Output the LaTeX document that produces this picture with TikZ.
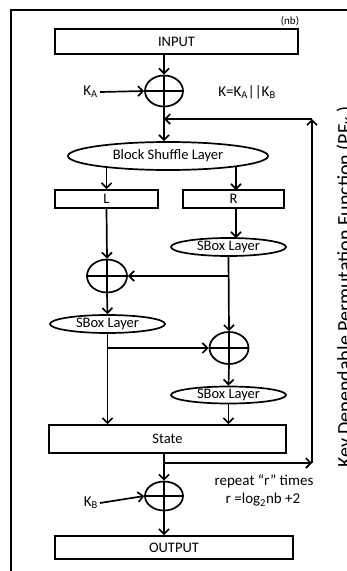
\documentclass[tikz,border=0pt]{standalone}
\usepackage{fontspec}
\setmainfont{Carlito}
\usetikzlibrary{shapes.geometric,arrows.meta,backgrounds}
\tikzset{
  lw/.style={line width=1.7pt},
  box/.style={lw,draw,fill=white,rectangle,inner sep=0pt,font=\fontsize{14.5}{16}\selectfont},
  oval/.style={lw,draw,fill=white,ellipse,inner sep=0pt,font=\fontsize{14.5}{16}\selectfont},
  xorn/.style={lw,draw,fill=white,ellipse,inner sep=0pt,
     path picture={\draw[lw] (path picture bounding box.west) -- (path picture bounding box.east)
                   (path picture bounding box.north) -- (path picture bounding box.south);}},
  arr/.style={lw,-{Straight Barb[length=5pt,width=10pt]}},
  lbl/.style={font=\fontsize{15}{16}\selectfont,inner sep=0pt},
}
\begin{document}
\begin{tikzpicture}[x=1pt,y=-1pt]
\useasboundingbox (0,0) rectangle (347,571);
\clip (0,0) rectangle (347,571);
\draw[lw] (11,590) -- (11,10) -- (370,10);

\node[box,minimum width=243pt,minimum height=25pt] (in) at (176.5,41.5) {INPUT};
\node[lbl,font=\fontsize{11}{12}\selectfont] (nb) at (290,21) {(nb)};
\node[xorn,minimum width=38pt,minimum height=31pt] (xa) at (164,91) {};
\node[lbl,anchor=east] (ka) at (98,92) {K\textsubscript{A}};
\node[lbl] (kk) at (247,92) {K=K\textsubscript{A}||K\textsubscript{B}};
\node[oval,minimum width=200pt,minimum height=28pt] (bs) at (168,156) {Block Shuffle Layer};
\node[box,minimum width=103pt,minimum height=18pt] (L) at (106.5,199) {L};
\node[box,minimum width=101pt,minimum height=18pt] (R) at (233.5,199) {R};
\node[oval,minimum width=115pt,minimum height=18pt] (sr1) at (228.5,247) {SBox Layer};
\node[xorn,minimum width=40pt,minimum height=33pt] (xl) at (107,276) {};
\node[oval,minimum width=115pt,minimum height=18pt] (sl) at (107.5,324) {SBox Layer};
\node[xorn,minimum width=39pt,minimum height=32pt] (xr) at (229,348) {};
\node[oval,minimum width=115pt,minimum height=17pt] (sr2) at (228.5,395) {SBox Layer};
\node[box,minimum width=237pt,minimum height=28pt] (st) at (167.5,439) {State};
\node[xorn,minimum width=38pt,minimum height=29pt] (xo) at (164,496) {};
\node[lbl,anchor=east] (kb) at (98,503) {K\textsubscript{B}};
\node[lbl] (rep) at (264,481) {repeat “r” times};
\node[lbl] (rr) at (263,500) {r =log\textsubscript{2}nb +2};
\node[box,minimum width=238pt,minimum height=23pt] (out) at (174,547.5) {OUTPUT};
\node[inner sep=0pt,anchor=base west,rotate=90,font=\fontsize{20}{22}\selectfont] (pf) at (351,468) {Key Dependable Permutation Function (PF\textsubscript{K} )};
\coordinate (c1) at (312,463);
\coordinate (c2) at (312,119);

\begin{scope}[on background layer]
\draw[arr] (xa |- in.south) -- (xa.north);
\draw[arr] (ka.east) ++(2pt,0) -- (xa.west);
\draw[arr] (xa.south) -- (xa.south |- bs.north);
\draw[arr] (bs.center -| L.north) -- (L.north);
\draw[arr] (bs.center -| R.north) ++(2.5pt,0) -- ++(0,34);
\draw[arr] (R.center) ++(2.5pt,0) -- ++(0,39);
\draw[arr] (L.south) -- (xl.north);
\draw[arr] (sr1.south) -- (xr.north);
\draw[arr] (sr1.south |- xl.east) -- (xl.east);
\draw[arr] (xl.south) -- (sl.north);
\draw[arr] (sl.south) -- (sl.south |- st.north);
\draw[arr] (sl.south |- xr.west) -- (xr.west);
\draw[arr] (xr.south) -- (sr2.north);
\draw[arr] (sr2.south) -- (sr2.south |- st.north);
\draw[arr] (xo |- st.south) -- (xo.north);
\draw[arr] (xo |- c1) -- (c1);
\draw[arr] (c1) -- (c2);
\draw[arr] (c2) -- (xa |- c2);
\draw[arr] (xo.south) -- (xo.south |- out.north);
\draw[arr] (kb.east) ++(2pt,0) -- (xo.west);
\end{scope}
\end{tikzpicture}
\end{document}
